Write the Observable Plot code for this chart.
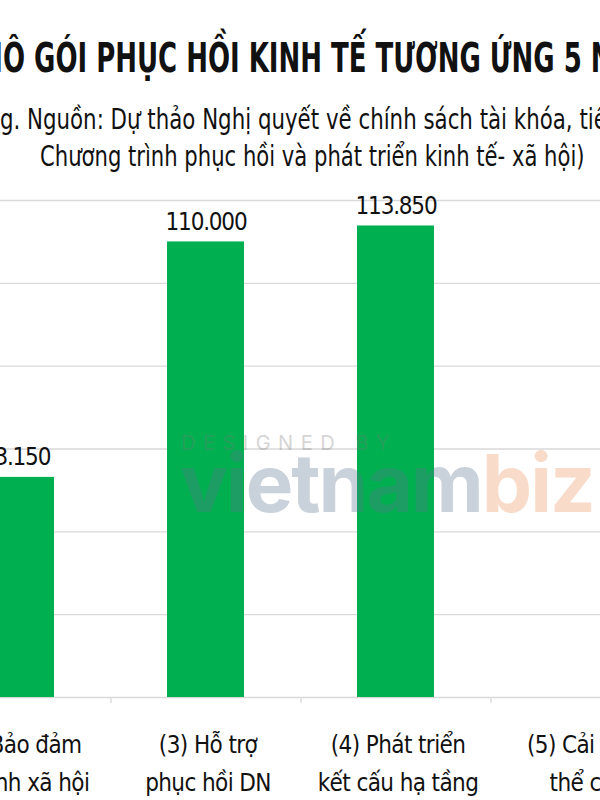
<!DOCTYPE html>
<html><head><meta charset="utf-8">
<script src="https://cdn.jsdelivr.net/npm/d3@7"></script>
<script src="https://cdn.jsdelivr.net/npm/@observablehq/plot@0.6"></script>
<style>
html,body{margin:0;padding:0;background:#fff;}
#page{position:relative;width:600px;height:800px;overflow:hidden;background:#fff;}
#chart{position:absolute;left:-300px;top:180px;width:1010px;height:620px;}
#chart svg{max-width:none !important;}
#head{position:absolute;left:0;top:0;}
#wm{position:absolute;left:0;top:0;pointer-events:none;}
</style></head><body>
<div id="page"><div id="chart"></div><svg id="head" width="600" height="180"></svg><svg id="wm" width="600" height="800"></svg></div>
<script>
const categories = [
  "(1) Mở cửa nền\nkinh tế, y tế",
  "(2) Bảo đảm\nan sinh xã hội",
  "(3) Hỗ trợ\nphục hồi DN",
  "(4) Phát triển\nkết cấu hạ tầng",
  "(5) Cải cách\nthể chế"
];
const values = [14000, 53150, 110000, 113850, 0];
const yTicks = [0, 20000, 40000, 60000, 80000, 100000, 120000];
const titleText = "QUY MÔ GÓI PHỤC HỒI KINH TẾ TƯƠNG ỨNG 5 NHÓM GIẢI PHÁP";
const subtitleLines = [
  "(Đơn vị: tỷ đồng. Nguồn: Dự thảo Nghị quyết về chính sách tài khóa, tiền tệ hỗ trợ",
  "Chương trình phục hồi và phát triển kinh tế- xã hội)"
];
const watermarkTop = "DESIGNED BY";
const watermarkA = "vietnam";
const watermarkB = "biz";

const FONT = "'Liberation Sans Narrow', 'DejaVu Sans Condensed', 'Roboto', sans-serif";
const fmt = d3.formatLocale({decimal: ",", thousands: ".", grouping: [3], currency: ["", ""]}).format(",");
const data = categories.map((c, i) => ({cat: c, value: values[i]}));

const chart = Plot.plot({
  width: 1010, height: 620,
  marginLeft: 30.5, marginRight: 29.5, marginTop: 20, marginBottom: 103,
  x: {domain: categories, paddingInner: 0.595, paddingOuter: 0.2975, axis: null},
  y: {domain: [0, 120000], axis: null},
  style: {background: "transparent", overflow: "visible", maxWidth: "none"},
  marks: [
    Plot.gridY(yTicks, {stroke: "#d9d9d9", strokeOpacity: 1, strokeWidth: 1.3}),
    Plot.ruleX(categories, {x: d => d, dx: 95, y1: 0, y2: 0, insetBottom: -6, stroke: "#d9d9d9", strokeWidth: 1.3}),
    Plot.barY(data, {x: "cat", y: "value", fill: "#00b050"}),
    Plot.text(data.filter(d => d.value > 0), {x: "cat", y: "value", text: d => fmt(d.value), dy: -12, lineAnchor: "bottom", fontSize: 24, fontFamily: FONT, fill: "#111", className: "vlabel"}),
    Plot.text(data, {x: "cat", text: "cat", frameAnchor: "bottom", lineAnchor: "top", dy: 28, dx: 2, fontSize: 24, lineHeight: 1.6, fontFamily: FONT, fill: "#111", className: "xlabel"})
  ]
});
document.getElementById("chart").appendChild(chart);
d3.select(chart).selectAll(".vlabel text").attr("letter-spacing", -1.2);
d3.select(chart).selectAll(".xlabel text").attr("letter-spacing", -0.6);

// Title & subtitle
const head = d3.select("#head");
function measure(str, size, weight) {
  if (!str) return 0;
  const t = head.append("text").attr("font-family", FONT).attr("font-size", size).attr("font-weight", weight).text(str);
  const w = t.node().getComputedTextLength();
  t.remove();
  return w;
}
function place(str, size, weight, aStr, xA, bStr, xB, baseline) {
  const wA = measure(aStr, size, weight), wB = measure(bStr, size, weight);
  const s = (xB - xA) / (wB - wA);
  const L = xA - s * wA;
  head.append("text").attr("font-family", FONT).attr("font-size", size).attr("font-weight", weight)
    .attr("fill", "#111").attr("transform", `translate(${L},${baseline}) scale(${s},1)`).text(str);
}
place(titleText, 41, 700, "QUY M", 3, "QUY MÔ GÓI PHỤC HỒI KINH TẾ TƯƠNG ỨNG 5", 582, 72);
place(subtitleLines[0], 29, 400, "(Đơn vị: tỷ đồn", 0, "(Đơn vị: tỷ đồng. Nguồn: Dự thảo Nghị quyết về chính sách tài khóa,", 573, 129);
place(subtitleLines[1], 29, 400, "", 40, subtitleLines[1], 585, 166);

// Watermark
const wm = d3.select("#wm");
wm.append("text").attr("x", 181).attr("y", 450).attr("font-family", "Inter, sans-serif").attr("font-size", 20)
  .attr("letter-spacing", 7.5).attr("fill", "#777").attr("opacity", 0.3).text(watermarkTop);
const wt = wm.append("text").attr("x", 180).attr("y", 512).attr("font-family", "Inter, 'Open Sans', sans-serif")
  .attr("font-size", 80).attr("font-weight", 700).attr("letter-spacing", -2);
wt.append("tspan").attr("fill", "#5a7590").attr("opacity", 0.32).text(watermarkA);
wt.append("tspan").attr("fill", "#ee9a66").attr("opacity", 0.35).text(watermarkB);
</script>
</body></html>
